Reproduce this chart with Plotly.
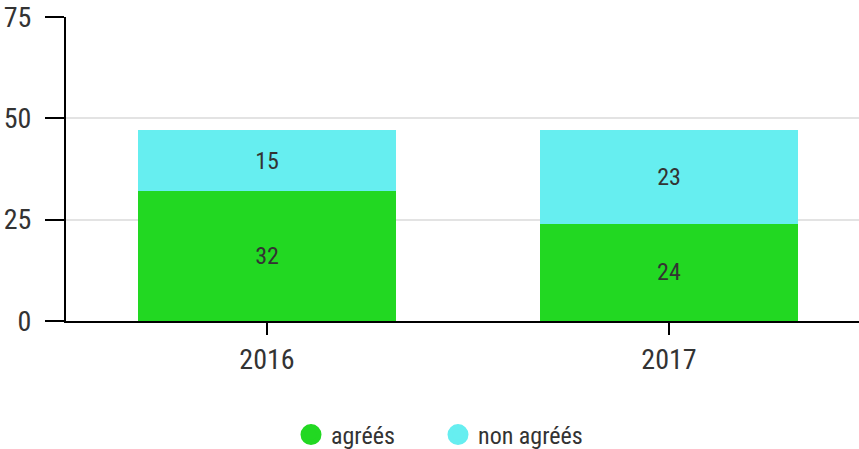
import plotly.graph_objects as go

years = ["2016", "2017"]
agrees = [32, 24]
non_agrees = [15, 23]
y_ticks = [0, 25, 50, 75]

green = "#22d822"
cyan = "#66eef0"
font_family = "Roboto Condensed, Roboto, sans-serif"
text_color = "#333333"

fig = go.Figure()
fig.add_trace(go.Bar(x=years, y=agrees, name="agréés", marker=dict(color=green, line=dict(width=0)),
                     text=[str(v) for v in agrees], textposition="inside", insidetextanchor="middle",
                     textfont=dict(size=24, color=text_color, family=font_family),
                     showlegend=False, hoverinfo="skip"))
fig.add_trace(go.Bar(x=years, y=non_agrees, name="non agréés", marker=dict(color=cyan, line=dict(width=0)),
                     text=[str(v) for v in non_agrees], textposition="inside", insidetextanchor="middle",
                     textfont=dict(size=24, color=text_color, family=font_family),
                     showlegend=False, hoverinfo="skip"))
# legend entries with circle markers
fig.add_trace(go.Scatter(x=[None], y=[None], mode="markers", name="agréés",
                         marker=dict(symbol="circle", size=22, color=green,
                                     line=dict(width=6, color=green))))
fig.add_trace(go.Scatter(x=[None], y=[None], mode="markers", name="non agréés",
                         marker=dict(symbol="circle", size=22, color=cyan,
                                     line=dict(width=6, color=cyan))))

W, H = 870, 449
fig.update_layout(
    barmode="stack",
    bargap=0.358,
    width=W, height=H,
    margin=dict(l=66, r=0, t=17, b=128, autoexpand=False),
    paper_bgcolor="white", plot_bgcolor="white",
    font=dict(family=font_family, color=text_color),
    uniformtext=dict(mode=False),
    legend=dict(orientation="h", x=(438 - 66) / 804, xanchor="center", y=-0.375, yanchor="middle",
                traceorder="normal",
                font=dict(size=24, color=text_color, family=font_family),
                itemwidth=30, tracegroupgap=0,
                entrywidth=102, entrywidthmode="pixels"),
)
fig.update_xaxes(
    range=[-0.5, 1.5], showline=True, linecolor="black", linewidth=2,
    ticks="outside", ticklen=12, tickwidth=2, tickcolor="black",
    tickfont=dict(size=28, color=text_color, family=font_family),
    showgrid=False, zeroline=False, automargin=False,
)
fig.update_yaxes(
    range=[0, 75], tickvals=y_ticks, showline=True, linecolor="black", linewidth=2,
    ticks="outside", ticklen=19, tickwidth=2, tickcolor="black",
    tickfont=dict(size=28, color=text_color, family=font_family),
    ticklabelstandoff=8,
    showgrid=True, gridcolor="#e3e3e3", gridwidth=2, zeroline=False, automargin=False,
)

post = (
    "document.body.style.margin='0';"
    "document.body.style.padding='0';"
    "document.body.style.overflow='hidden';"
    "document.documentElement.style.overflow='hidden';"
    "var gd=document.getElementById('{plot_id}');"
    "Plotly.relayout(gd,{width:%d,height:%d});" % (W, H)
)
fig.write_html("out.html", post_script=post,
               config={"responsive": False, "displayModeBar": False})
